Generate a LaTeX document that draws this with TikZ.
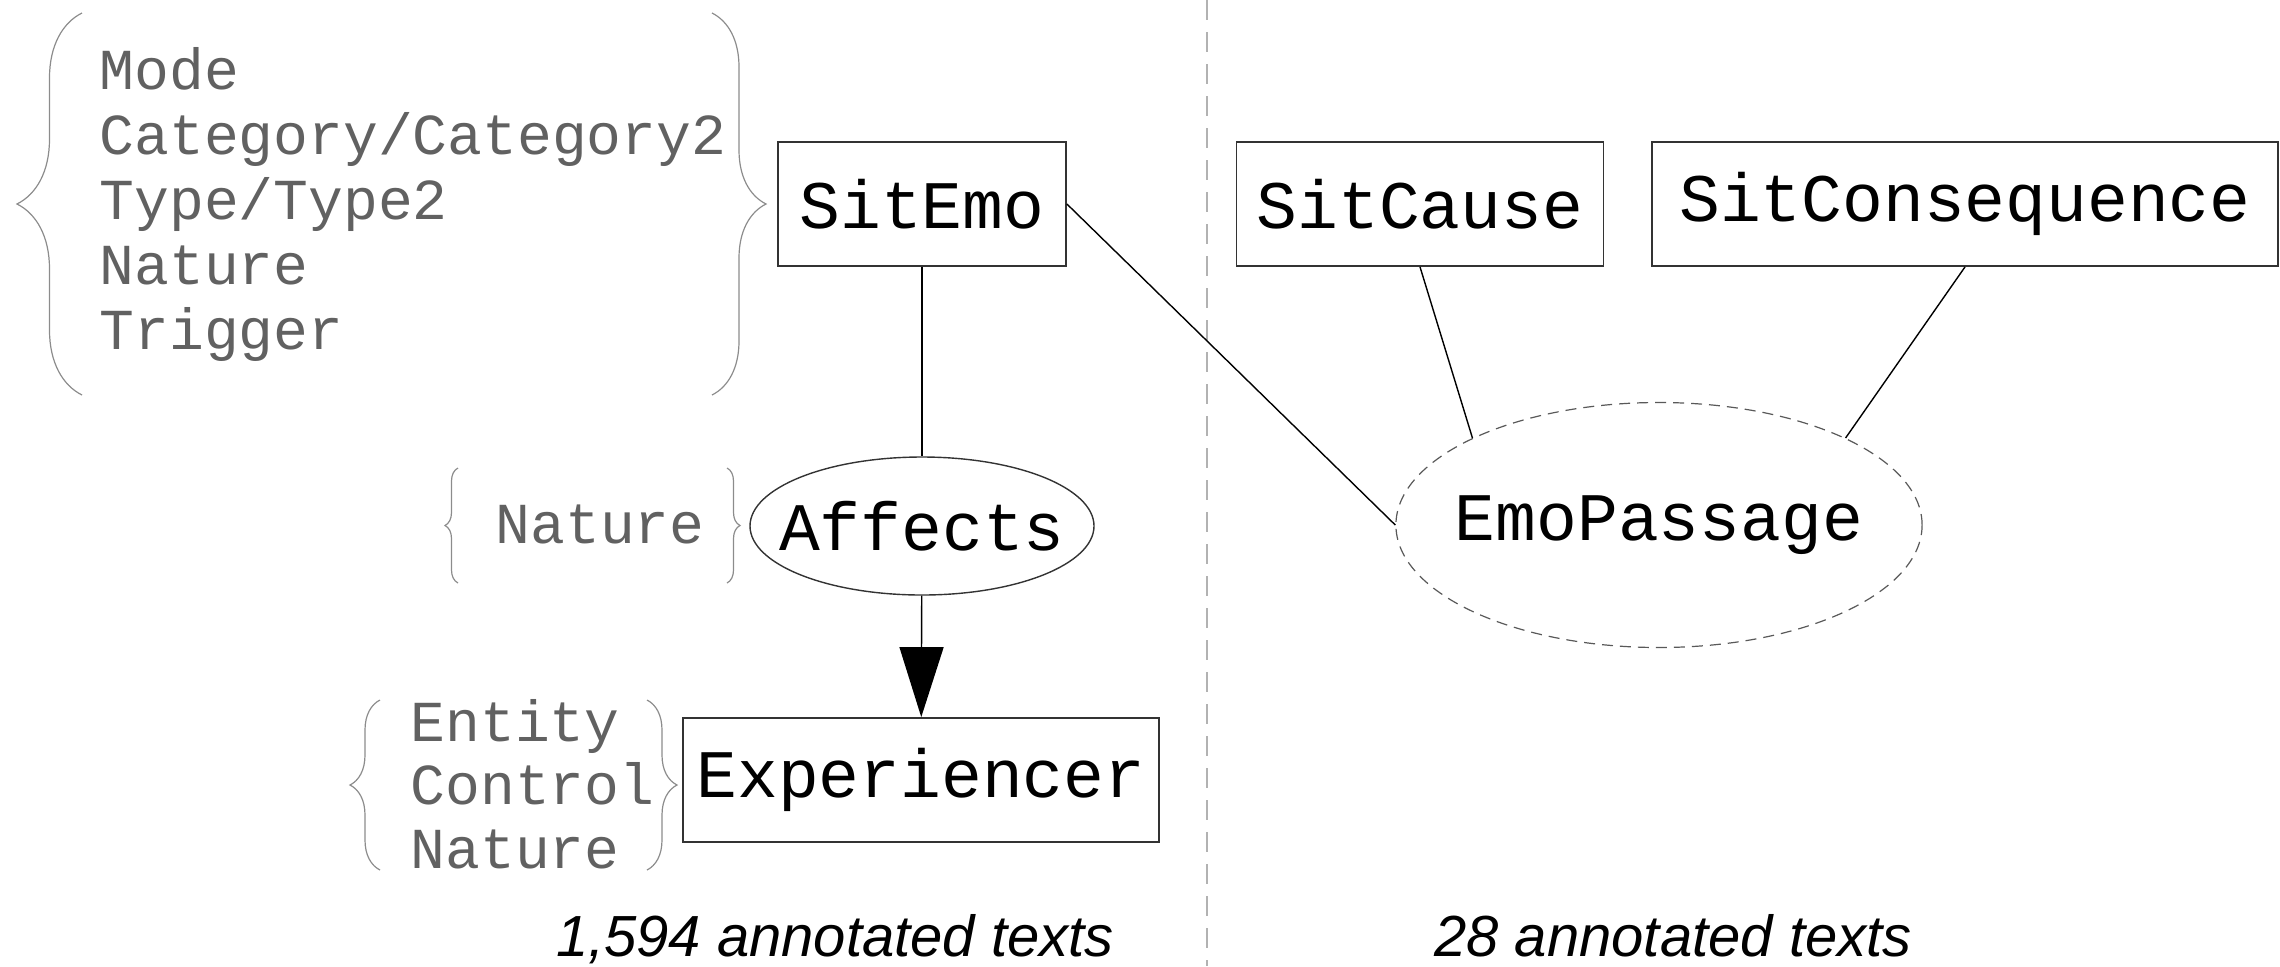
\documentclass[tikz,border=0pt]{standalone}
\usepackage{fontspec}
\setmonofont{Liberation Mono}
\setsansfont{Liberation Sans}
\usetikzlibrary{shapes.geometric,arrows.meta,decorations.pathreplacing}

\tikzset{
  entity/.style={draw=black!80, line width=0.9pt, minimum height=62pt, inner sep=0pt,
    font=\ttfamily\fontsize{34}{40}\selectfont},
  relation/.style={entity, ellipse, line width=0.7pt, minimum width=172pt, minimum height=69pt},
  attrs/.style={text=black!62, align=left, inner sep=0pt,
    font=\ttfamily\fontsize{29}{32.5}\selectfont},
  attrbrace/.style={draw=black!45, line width=0.6pt, decorate, decoration={brace, amplitude=#1}},
  total/.style={font=\sffamily\itshape\fontsize{29}{34}\selectfont}
}

\begin{document}
\begin{tikzpicture}[x=0.5pt, y=-0.5pt, line width=0.7pt]
  \useasboundingbox (0,0) rectangle (2280,966);
  % split between the two corpora
  \draw[black!30, line width=1pt, dash pattern=on 10pt off 6pt] (1207,0) -- (1207,966);

  % situations and relation
  \node[entity, minimum width=144pt] (sitemo) at (922,204) {SitEmo};
  \node[entity, minimum width=183.5pt] (sitcause) at (1420,204) {SitCause};
  \node[entity, minimum width=313pt] (sitcons) at (1965,204) {SitConsequence};
  \node[entity, minimum width=238pt] (experiencer) at (921,780) {Experiencer};
  \node[relation, inner xsep=-10.6pt] (affects) at (922,526) {Affects};
  \node[relation, draw=black!65, line width=0.6pt, dash pattern=on 5.5pt off 3.5pt, inner xsep=-9pt,
    minimum width=263pt, minimum height=122.5pt] (emopassage) at (1659,525) {EmoPassage};

  \draw (sitemo) -- (affects);
  \draw (sitemo.east) -- (emopassage.west);
  \draw (sitcause.south) -- (emopassage.155);
  \draw (sitcons.south) -- (emopassage.25);
  \draw[-{Triangle[length=35pt,width=22pt]}] (affects) -- (experiencer);

  % attributes
  \node[attrs, anchor=west] (sitattr) at (99,204) {Mode\\Category/Category2\\Type/Type2\\Nature\\Trigger};
  \node[attrs, anchor=west] (affattr) at (495,524) {Nature};
  \node[attrs, anchor=west, font=\ttfamily\fontsize{29}{31.75}\selectfont] (expattr) at (410,784) {Entity\\Control\\Nature};

  \draw[attrbrace=32.5pt] (82,395) -- (82,13);
  \draw[attrbrace=27pt] (712,13) -- (712,395);
  \draw[attrbrace=6.5pt] (458,583) -- (458,468);
  \draw[attrbrace=6.5pt] (727,468) -- (727,583);
  \draw[attrbrace=15pt] (380,870) -- (380,700);
  \draw[attrbrace=15pt] (647,700) -- (647,870);

  % corpus sizes
  \node[total, anchor=base] (lefttotal) at (835,956) {1,594 annotated texts};
  \node[total, anchor=base] (righttotal) at (1673,956) {28 annotated texts};
\end{tikzpicture}
\end{document}
